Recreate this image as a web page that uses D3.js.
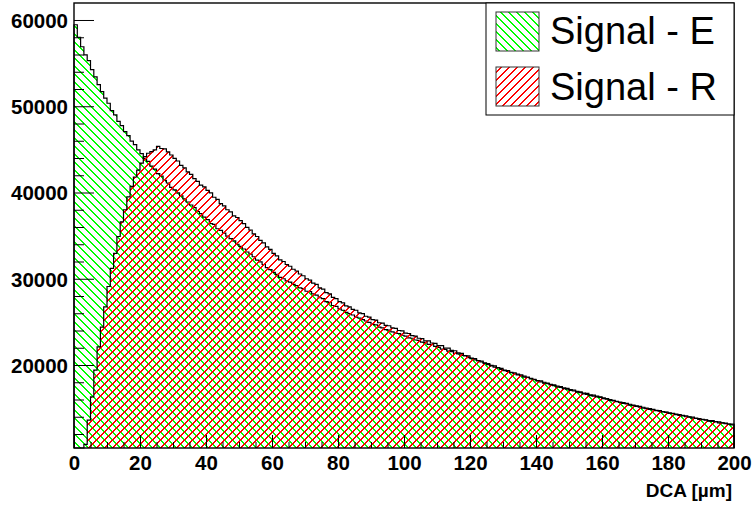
<!DOCTYPE html>
<html><head><meta charset="utf-8">
<script src="https://cdn.jsdelivr.net/npm/d3@7"></script>
<style>body{margin:0;background:#fff}svg{display:block}</style>
</head><body>
<svg id="c" width="752" height="506"></svg>
<script>
// ---- data ----
const binEdges = [0, 200];      // DCA range [µm], 200 bins of 1 µm
const xTickLabels = [0,20,40,60,80,100,120,140,160,180,200];
const yTickLabels = [20000,30000,40000,50000,60000];
const seriesNames = ["Signal - E","Signal - R"];
const signalE = [59450,58000,56900,55950,55300,54250,53400,52500,51700,50950,
 50350,49500,49000,48250,47750,47050,46600,45950,45550,44950,
 44500,43950,43600,43050,42700,42200,41900,41400,41100,40600,
 40300,39950,39600,39250,38900,38550,38250,37800,37550,37150,
 36850,36400,36300,35800,35600,35300,34950,34650,34400,34000,
 33750,33450,33100,32850,32550,32150,31950,31650,31300,31050,
 30750,30500,30150,30000,29750,29600,29350,29200,28950,28850,
 28550,28500,28250,28100,27800,27700,27350,27250,26900,26800,
 26500,26350,26100,25950,25800,25550,25450,25250,25100,24950,
 24700,24650,24400,24300,24100,24050,23850,23700,23650,23450,
 23350,23150,23100,22900,22850,22650,22600,22400,22350,22150,
 22050,21850,21800,21600,21550,21350,21300,21100,21050,20850,
 20750,20600,20500,20350,20250,20050,19950,19750,19700,19500,
 19400,19250,19150,19000,18950,18750,18700,18550,18450,18300,
 18200,18050,18000,17850,17750,17600,17550,17400,17350,17200,
 17150,17000,16950,16800,16750,16600,16550,16400,16400,16250,
 16200,16050,16000,15850,15800,15650,15650,15500,15450,15300,
 15250,15100,15100,14950,14950,14800,14750,14650,14600,14500,
 14450,14350,14300,14150,14150,14000,14000,13850,13850,13700,
 13700,13600,13550,13450,13450,13300,13300,13200,13150,13050];
const signalR = [3000,6000,8500,10800,13600,16300,19400,22100,24400,26750,
 29100,31200,32950,34900,36600,38000,39500,40700,41800,42600,
 43400,44150,44550,44750,44950,45350,45100,45050,44700,44350,
 43950,43650,43150,42850,42400,42100,41600,41300,40850,40650,
 40250,39950,39450,39200,38700,38450,38000,37750,37300,37100,
 36750,36400,35950,35650,35200,34900,34450,34150,33700,33400,
 32950,32650,32200,32000,31650,31450,31100,30900,30550,30350,
 30000,29850,29500,29350,28950,28800,28400,28250,27850,27700,
 27350,27200,26850,26750,26450,26350,26050,25950,25650,25550,
 25250,25200,24900,24850,24600,24550,24300,24250,24000,23950,
 23700,23650,23400,23350,23100,23050,22800,22800,22550,22500,
 22250,22250,21950,21950,21700,21650,21400,21350,21100,21050,
 20800,20750,20500,20450,20200,20150,19900,19900,19650,19600,
 19350,19350,19100,19100,18850,18850,18600,18600,18400,18350,
 18150,18150,17900,17900,17700,17700,17450,17500,17250,17300,
 17050,17100,16850,16900,16650,16700,16450,16500,16300,16300,
 16100,16100,15900,15900,15750,15700,15550,15550,15350,15350,
 15200,15200,15000,15000,14850,14850,14700,14700,14550,14550,
 14400,14400,14250,14250,14100,14100,13950,13950,13800,13800,
 13650,13650,13500,13550,13400,13400,13300,13250,13150,13150];
const seriesColors = ["#00ff00","#ff0000"];

// ---- layout ----
const L=74, R=734, T=3, B=448;
const svg = d3.select("#c");
const x = d3.scaleLinear().domain(binEdges).range([L,R]);
const y = d3.scaleLinear().domain([10377,61971]).range([B,T]);
const nb = signalE.length;
const bw = (binEdges[1]-binEdges[0])/nb;
const HS = 8, OFF = 0.5;

// add hatch segments (back = "\" else "/") inside rectangle [x0,x1]x[yt,yb] to path p
function hatchRect(p, back, x0, x1, yt, yb){
  if(yt >= yb || x0 >= x1) return;
  if(back){ // x - y = c
    for(let c = Math.ceil((x0-yb-OFF)/HS)*HS+OFF; c <= x1-yt; c += HS){
      const xa = Math.max(x0, yt + c), xb = Math.min(x1, yb + c);
      if(xb > xa){ p.moveTo(xa, xa-c); p.lineTo(xb, xb-c); }
    }
  } else {  // x + y = c
    for(let c = Math.ceil((x0+yt-OFF)/HS)*HS+OFF; c <= x1+yb; c += HS){
      const xa = Math.max(x0, c - yb), xb = Math.min(x1, c - yt);
      if(xb > xa){ p.moveTo(xa, c-xa); p.lineTo(xb, c-xb); }
    }
  }
}
function histHatch(vals, back){
  const p = d3.path();
  vals.forEach((v,i)=>{
    const x0 = x(binEdges[0]+i*bw), x1 = x(binEdges[0]+(i+1)*bw);
    const yt = Math.max(T, y(v));
    hatchRect(p, back, x0, x1, yt, B);
  });
  return p.toString();
}
function histOutline(vals){
  const p = d3.path();
  vals.forEach((v,i)=>{
    const x0 = x(binEdges[0]+i*bw), x1 = x(binEdges[0]+(i+1)*bw);
    const yy = Math.min(B, Math.max(T, y(v)));
    if(i===0) p.moveTo(x0, B);
    p.lineTo(x0, yy); p.lineTo(x1, yy);
  });
  p.lineTo(x(binEdges[1]), B);
  return p.toString();
}

const g = svg.append("g");
[signalE,signalR].forEach((vals,i)=>{
  g.append("path").attr("d",histHatch(vals, i===0))
    .attr("fill","none").attr("stroke",seriesColors[i]).attr("stroke-width",1)
    .attr("shape-rendering","crispEdges");
  g.append("path").attr("d",histOutline(vals)).attr("fill","none")
    .attr("stroke","#000").attr("stroke-width",1.2);
});

// frame
svg.append("rect").attr("x",L).attr("y",T).attr("width",R-L).attr("height",B-T)
  .attr("fill","none").attr("stroke","#000").attr("stroke-width",1.4);

const font = "'Liberation Sans', Arial, Helvetica, sans-serif";
// y axis
const yMinor = d3.range(12000, 61971, 2000).filter(v=>v%10000!==0);
svg.append("g").attr("transform",`translate(${L},0)`)
  .call(d3.axisLeft(y).tickValues(yMinor).tickSize(-10).tickFormat(""))
  .call(a=>a.select(".domain").remove());
const ya = svg.append("g").attr("transform",`translate(${L},0)`)
  .call(d3.axisLeft(y).tickValues(yTickLabels).tickSize(-20).tickPadding(6).tickFormat(d3.format("d")))
  .call(a=>a.select(".domain").remove());
ya.selectAll("text").attr("font-family",font).attr("font-weight","bold")
  .attr("font-size",20.5).attr("fill","#000").attr("dy","0.36em");
// x axis
const xMinor = d3.range(5,200,5).filter(v=>v%20!==0);
svg.append("g").attr("transform",`translate(0,${B})`)
  .call(d3.axisBottom(x).tickValues(xMinor).tickSize(-6).tickFormat(""))
  .call(a=>a.select(".domain").remove());
const xa = svg.append("g").attr("transform",`translate(0,${B})`)
  .call(d3.axisBottom(x).tickValues(xTickLabels).tickSize(-13).tickPadding(7).tickFormat(d3.format("d")))
  .call(a=>a.select(".domain").remove());
xa.selectAll("text").attr("font-family",font).attr("font-weight","bold")
  .attr("font-size",20.5).attr("fill","#000");

// axis title
svg.append("text").attr("x",732).attr("y",497).attr("text-anchor","end")
  .attr("font-family",font).attr("font-weight","bold").attr("font-size",19)
  .text("DCA [µm]");

// legend
const lg = svg.append("g");
lg.append("rect").attr("x",486).attr("y",T).attr("width",R-486).attr("height",115-T)
  .attr("fill","#fff").attr("stroke","#000").attr("stroke-width",1);
seriesNames.forEach((name,i)=>{
  const sx = 496, sy = 12 + i*55, sw = 43, sh = 39;
  const p = d3.path();
  hatchRect(p, i===0, sx, sx+sw, sy, sy+sh);
  lg.append("path").attr("d",p.toString())
    .attr("fill","none").attr("stroke",seriesColors[i]).attr("stroke-width",1)
    .attr("shape-rendering","crispEdges");
  lg.append("rect").attr("x",sx).attr("y",sy).attr("width",sw).attr("height",sh)
    .attr("fill","none").attr("stroke","#333").attr("stroke-width",1);
  lg.append("text").attr("x",550).attr("y",43.5+i*56).attr("font-family",font)
    .attr("font-size",38).attr("fill","#000").text(name);
});
</script>
</body></html>
